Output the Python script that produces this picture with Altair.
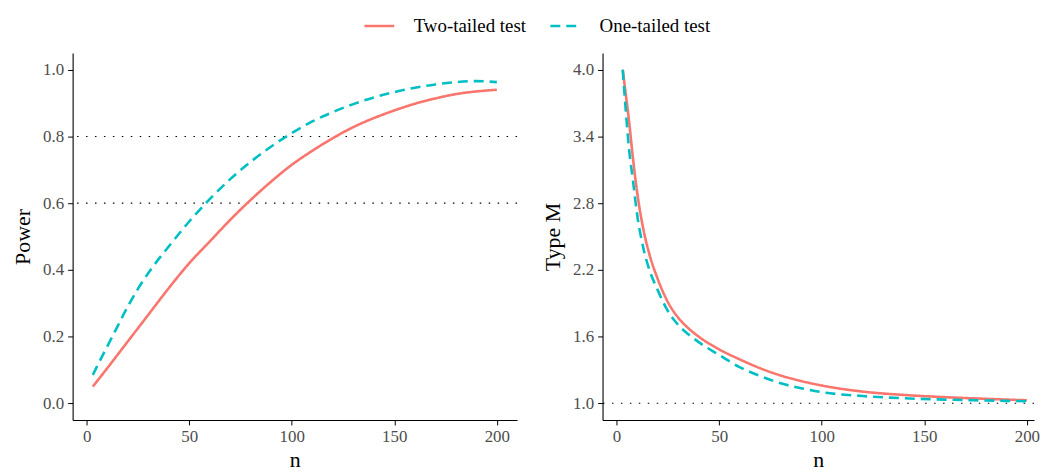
import altair as alt
import pandas as pd

# Power panel
pow_n_two = [3, 10, 20, 30, 40, 50, 60, 70, 80, 90, 100, 110, 120, 130, 140, 150, 160, 170, 180, 190, 200]
pow_two = [0.05, 0.105, 0.185, 0.265, 0.345, 0.42, 0.485, 0.55, 0.61, 0.665, 0.715, 0.757, 0.795, 0.828, 0.855, 0.878, 0.898, 0.914, 0.927, 0.935, 0.94]
pow_n_one = [3, 5, 10, 15, 20, 25, 30, 40, 50, 60, 70, 80, 90, 100, 110, 120, 130, 140, 150, 160, 170, 180, 190, 200]
pow_one = [0.085, 0.11, 0.17, 0.23, 0.29, 0.343, 0.39, 0.47, 0.545, 0.612, 0.672, 0.724, 0.77, 0.81, 0.845, 0.873, 0.897, 0.917, 0.933, 0.946, 0.956, 0.963, 0.966, 0.963]

# Type M panel
m_n_two = [3, 4, 6, 8, 10, 13, 16, 20, 25, 30, 35, 40, 50, 60, 70, 80, 90, 100, 120, 140, 160, 180, 200]
m_two = [4.0, 3.85, 3.55, 3.2, 2.9, 2.57, 2.34, 2.12, 1.91, 1.77, 1.675, 1.60, 1.485, 1.395, 1.315, 1.25, 1.20, 1.16, 1.105, 1.075, 1.055, 1.04, 1.027]
m_n_one = [3, 4, 6, 8, 10, 13, 16, 20, 25, 30, 35, 40, 50, 60, 70, 80, 90, 100, 120, 140, 160, 180, 200]
m_one = [4.0, 3.75, 3.3, 3.0, 2.7, 2.40, 2.2, 2.02, 1.83, 1.705, 1.62, 1.55, 1.435, 1.325, 1.245, 1.18, 1.135, 1.10, 1.065, 1.045, 1.033, 1.025, 1.018]

tests = ["Two-tailed test", "One-tailed test"]
colors = ["#F8766D", "#00BFC4"]
power_refs = [0.6, 0.8]
m_refs = [1.0]

FONT = "Liberation Serif"

pow_df = pd.concat([
    pd.DataFrame({"n": pow_n_two, "v": pow_two, "test": tests[0]}),
    pd.DataFrame({"n": pow_n_one, "v": pow_one, "test": tests[1]}),
])
m_df = pd.concat([
    pd.DataFrame({"n": m_n_two, "v": m_two, "test": tests[0]}),
    pd.DataFrame({"n": m_n_one, "v": m_one, "test": tests[1]}),
])

H = 369
xaxis = alt.Axis(values=[0, 50, 100, 150, 200], title="n", format="d")

legend = alt.Legend(orient="none", legendX=292, legendY=-44,
                    direction="horizontal", title=None,
                    symbolType="stroke", symbolSize=900,
                    symbolStrokeWidth=2.6, labelFontSize=19,
                    labelFont=FONT, labelColor="black",
                    columnPadding=18, labelOffset=18)
color_enc = alt.Color("test:N", scale=alt.Scale(domain=tests, range=colors), legend=legend)
dash_enc = alt.StrokeDash("test:N", scale=alt.Scale(domain=tests, range=[[1, 0], [10, 6]]),
                          legend=legend)


def panel(df, refs, xdom, width, ydom, yvals, ytitle):
    xscale = alt.Scale(domain=xdom, nice=False, zero=False)
    yscale = alt.Scale(domain=ydom, nice=False, zero=False)
    yaxis = alt.Axis(values=yvals, title=ytitle, format=".1f")
    rules = alt.Chart(pd.DataFrame({"r": refs})).mark_rule(
        color="black", strokeWidth=1.1, strokeDash=[1.5, 7.5]
    ).encode(y=alt.Y("r:Q", scale=yscale, axis=yaxis))
    lines = alt.Chart(df).mark_line(strokeWidth=2.6, clip=True, interpolate="monotone").encode(
        x=alt.X("n:Q", scale=xscale, axis=xaxis),
        y=alt.Y("v:Q", scale=yscale, axis=yaxis),
        color=color_enc,
        strokeDash=dash_enc,
        order="n:Q",
    )
    return alt.layer(rules, lines).properties(width=width, height=H)


left = panel(pow_df, power_refs, [-6.85, 209.85], 447, [-0.05, 1.05],
             [0.0, 0.2, 0.4, 0.6, 0.8, 1.0], "Power")
right = panel(m_df, m_refs, [-6.85, 203.5], 434, [0.85, 4.15],
              [1.0, 1.6, 2.2, 2.8, 3.4, 4.0], "Type M")

chart = alt.hconcat(left, right, spacing=86, bounds="flush").configure(
    font=FONT,
    padding={"left": 3, "top": 0, "right": 0, "bottom": 0},
    view=alt.ViewConfig(stroke=None),
    axis=alt.AxisConfig(
        domainColor="black", domainWidth=1.1, tickColor="black", tickSize=5,
        tickWidth=1, grid=False, labelFont=FONT, labelFontSize=17,
        labelColor="#4D4D4D", titleFont=FONT, titleFontSize=22,
        titleFontWeight="normal", titleColor="black", labelPadding=4),
    axisY=alt.AxisConfig(titlePadding=8),
    axisX=alt.AxisConfig(titlePadding=5),
)
chart.save("out.html", embed_options={"renderer": "svg", "actions": False})
